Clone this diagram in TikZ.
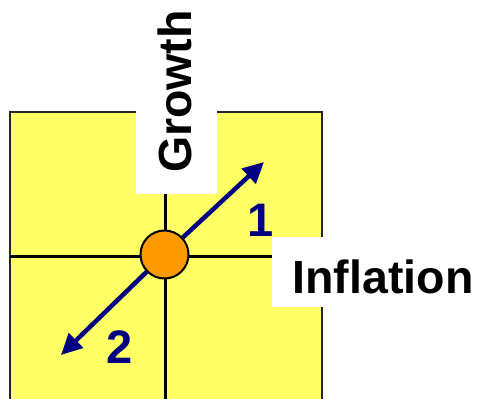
\documentclass[tikz,border=0pt]{standalone}
\usepackage{fontspec}
\setmainfont{Liberation Sans}
\usetikzlibrary{arrows.meta}
\definecolor{quadyellow}{RGB}{255,255,102}
\definecolor{dotorange}{RGB}{255,153,0}
\definecolor{arrownavy}{RGB}{0,0,128}
\tikzset{
  axisline/.style={line width=3pt, black},
  whitebox/.style={fill=white, draw=none},
  biglabel/.style={font=\fontsize{46.5}{46.5}\selectfont\bfseries, inner sep=0pt},
  numlabel/.style={font=\fontsize{47}{47}\selectfont\bfseries, text=arrownavy, inner sep=0pt},
  movearrow/.style={line width=4.5pt, arrownavy, -{Triangle[length=21pt,width=20pt]}},
}
\begin{document}
\begin{tikzpicture}[x=1pt,y=-1pt]
\useasboundingbox (0,0) rectangle (483,399);
% quadrant square
\filldraw[fill=quadyellow, draw=black!85, line width=2pt] (10,112) rectangle (322,410);
\draw[axisline] (10,256) -- (322,256);
\draw[axisline] (165,112) -- (165,410);
% white label backgrounds
\fill[whitebox] (136,-5) rectangle (217,194);
\fill[whitebox] (272,237) rectangle (490,307);
% labels
\node[biglabel, rotate=90] (growth) at (175,91.5) {Growth};
\node[biglabel, anchor=base] (inflation) at (383,293) {Inflation};
% centre dot
\node[circle, draw=black, line width=2pt, fill=dotorange, minimum size=48pt, inner sep=0pt] (c) at (164.5,254.5) {};
\coordinate (t1) at (264,162);
\coordinate (t2) at (61,355);
\draw[movearrow] (c) -- (t1);
\draw[movearrow] (c) -- (t2);
\node[numlabel, anchor=base] (n1) at (261,236) {1};
\node[numlabel, anchor=base] (n2) at (119.5,363) {2};
\end{tikzpicture}
\end{document}
